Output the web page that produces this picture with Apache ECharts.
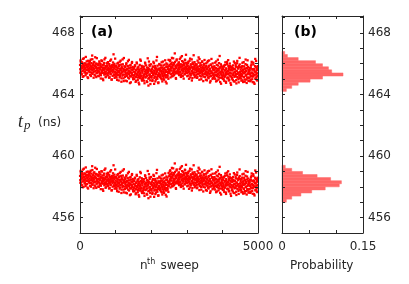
<!DOCTYPE html>
<html><head><meta charset="utf-8">
<script src="https://cdn.jsdelivr.net/npm/echarts@6/dist/echarts.min.js"></script>
<style>html,body{margin:0;padding:0;background:#fff}#c{width:409px;height:284px}</style>
</head><body><div id="c"></div>
<script>
// two interleaved samples per 10-sweep step (A at step start, B half a step later)
const sweepStep = 10;
const sweepRange = [0, 5000];
const tpRange = [455, 469.1];
const probRange = [0, 0.15];
const sweepTickLabels = [0, 5000];
const tpTickLabels = [456, 460, 464, 468];
const probTickLabels = [0, 0.15];

const upperBandA = [
465.92,465.41,466.13,465.68,465.30,466.05,465.77,465.52,466.31,465.84,465.19,465.63,466.02,465.88,465.47,465.71,466.44,465.36,465.95,465.58,465.81,465.12,466.19,465.66,465.99,
465.55,466.08,465.73,465.27,465.90,466.27,465.44,465.82,465.61,466.53,465.35,465.76,465.98,465.09,465.69,466.11,465.50,465.86,465.23,466.00,465.74,465.39,466.36,465.57,465.93,
465.70,465.21,465.96,465.48,466.15,465.62,465.33,465.85,465.04,465.77,466.22,465.53,465.40,465.91,465.66,464.93,465.58,466.05,465.29,465.74,465.45,466.38,465.81,465.16,465.63,
465.37,465.89,465.60,466.10,465.24,465.72,465.49,465.97,465.12,465.66,465.83,465.31,466.27,465.54,464.98,465.78,465.43,465.92,465.58,466.61,465.26,465.69,465.08,465.85,465.47,
465.63,465.18,465.86,465.39,464.95,465.74,465.52,466.06,465.27,465.45,465.91,465.11,465.68,465.34,466.20,465.57,464.83,465.80,465.43,465.22,465.96,465.50,465.05,466.37,465.61,
465.29,465.76,465.47,464.90,465.58,466.03,465.21,465.66,465.38,465.84,465.10,465.52,466.25,465.33,465.70,464.74,465.45,465.92,465.17,465.61,465.40,466.11,465.26,465.79,464.99,
465.48,465.03,465.71,465.26,465.90,465.37,464.82,465.56,465.14,466.08,465.30,465.64,464.95,465.43,465.80,465.19,464.66,465.52,465.35,466.27,465.08,465.68,465.24,465.86,464.90,
465.41,464.97,465.63,465.18,465.82,465.29,464.73,465.50,466.01,465.12,465.57,465.34,464.86,465.75,465.22,466.35,465.45,464.58,465.66,465.06,465.93,465.31,464.92,465.54,465.15,
465.60,465.09,465.47,464.88,465.77,465.25,466.12,465.38,464.69,465.54,465.16,465.85,465.31,464.97,465.70,465.43,466.44,465.02,465.59,465.21,464.79,465.66,465.36,465.94,465.13,
465.28,465.74,465.05,465.52,466.09,465.36,464.85,465.63,465.19,465.88,465.44,464.96,465.71,465.30,466.22,465.57,465.11,465.80,464.72,465.49,465.95,465.24,465.66,465.02,465.41,
465.83,465.42,466.16,465.58,465.11,465.97,465.69,465.34,466.38,465.75,465.20,465.91,465.53,466.04,465.28,465.66,466.67,465.45,465.86,465.07,465.72,466.21,465.39,465.94,465.61,
465.50,466.01,465.73,465.26,465.88,466.30,465.45,465.79,465.14,465.96,465.62,466.49,465.37,465.84,465.55,466.12,465.03,465.70,465.92,465.31,466.24,465.67,465.48,466.06,465.77,
465.66,465.19,465.89,465.44,466.13,465.58,465.02,465.81,465.35,466.33,465.71,465.25,465.96,465.50,464.91,465.77,466.08,465.40,465.63,466.55,465.29,465.86,465.12,465.69,465.98,
465.43,465.92,465.60,465.08,465.75,466.20,465.32,465.67,466.41,465.51,464.96,465.84,465.38,466.03,465.57,465.17,465.90,465.46,466.15,465.27,465.72,464.87,465.63,465.99,465.36,
465.58,465.13,465.81,465.37,466.02,465.49,464.92,465.70,465.24,466.18,465.44,465.06,465.87,465.33,465.62,464.78,465.53,465.95,465.19,466.31,465.41,465.76,465.01,465.65,465.28,
465.35,465.80,465.14,465.61,466.07,465.26,465.72,464.85,465.47,465.93,465.20,465.56,466.26,465.31,464.97,465.68,465.42,466.50,465.09,465.77,465.38,464.70,465.85,465.52,465.23,
465.46,465.02,465.69,465.27,465.88,464.89,465.55,465.18,466.09,465.39,464.76,465.62,465.31,465.97,465.11,465.50,466.23,465.07,465.73,464.94,465.43,465.84,465.22,465.60,464.63,
465.37,465.81,465.09,465.56,464.95,465.70,465.26,466.14,465.43,464.84,465.64,465.18,465.91,465.33,464.72,465.52,466.03,465.13,465.77,465.40,464.99,465.86,465.24,466.38,465.47,
465.19,465.62,465.35,464.90,465.74,465.28,466.06,465.45,464.81,465.58,465.12,465.83,465.39,464.97,465.68,466.27,465.23,465.51,464.75,465.92,465.31,465.06,465.79,465.42,464.88,
465.54,465.10,465.71,465.29,464.93,465.87,465.40,466.12,465.17,465.61,464.80,465.36,465.95,465.24,465.66,464.69,465.48,466.31,465.05,465.77,465.32,464.96,465.58,465.20,465.84
];
const upperBandB = [
465.64,466.21,465.48,465.87,465.33,466.09,465.71,465.15,465.96,465.56,466.35,465.80,465.42,465.68,466.02,465.25,465.89,465.60,466.15,465.38,465.76,465.94,465.07,465.83,465.51,
465.97,465.45,466.18,465.62,465.84,465.20,466.04,465.73,465.36,466.29,465.58,465.91,465.47,466.11,465.67,465.29,465.86,466.42,465.54,465.78,465.13,466.00,465.69,465.41,465.93,
465.52,465.88,465.19,465.71,466.06,465.37,465.64,465.97,465.25,465.80,465.46,466.17,465.58,465.02,465.75,465.41,465.93,465.61,466.28,465.33,465.69,465.12,465.84,465.49,466.03,
465.81,465.28,465.67,466.04,465.40,465.59,465.09,465.86,465.46,466.19,465.35,465.73,465.55,464.96,465.90,465.63,465.21,466.08,465.50,465.77,465.30,465.99,465.44,466.33,465.17,
465.33,465.79,465.10,465.57,466.01,465.26,465.69,465.44,464.91,465.85,465.52,466.13,465.19,465.63,465.37,465.94,465.05,465.72,465.48,466.28,465.29,465.66,464.87,465.58,465.83,
465.57,465.14,465.82,465.35,465.96,465.23,464.86,465.63,465.42,466.16,465.31,465.70,465.04,465.51,465.88,465.19,465.46,464.79,465.75,465.37,466.05,465.28,465.60,465.09,465.67,
465.22,465.69,465.01,465.45,465.85,465.15,465.58,464.88,465.36,466.02,465.27,465.74,465.10,465.50,464.77,465.63,465.31,465.92,465.06,465.41,466.19,465.20,465.55,464.97,465.79,
465.53,465.07,465.76,465.24,464.90,465.66,465.35,466.07,465.11,465.47,465.89,465.19,465.60,464.81,465.39,465.72,465.03,465.58,466.14,465.27,465.84,465.14,464.68,465.49,465.96,
465.19,465.65,465.40,464.93,465.82,465.28,465.56,466.03,465.08,465.44,465.73,464.85,465.61,465.33,466.21,465.12,465.50,465.87,465.26,464.74,465.68,465.37,465.98,465.17,465.54,
465.62,465.18,465.89,465.43,464.99,465.75,465.30,466.14,465.51,465.08,465.67,465.36,465.94,465.22,465.58,464.83,465.47,466.02,465.27,465.81,465.14,465.70,465.39,466.25,465.55,
465.47,465.92,465.64,466.23,465.31,465.79,465.55,466.07,465.18,465.86,465.40,466.35,465.68,465.25,465.97,465.59,466.12,465.36,465.81,465.02,465.73,466.28,465.50,465.89,465.43,
465.88,465.35,466.09,465.61,465.96,465.42,465.75,466.40,465.27,465.83,465.56,466.17,465.70,465.19,465.91,465.48,466.02,465.64,465.33,466.26,465.79,465.52,466.58,465.40,465.95,
465.39,465.85,465.57,466.05,465.23,465.72,465.48,466.19,465.64,465.11,465.93,465.36,465.80,466.28,465.52,465.07,465.68,465.98,465.31,465.76,465.44,466.10,465.61,465.20,465.87,
465.70,465.28,465.95,465.49,465.13,465.81,465.58,466.07,465.37,465.66,466.30,465.22,465.89,465.45,465.74,464.99,465.61,466.12,465.34,465.79,465.52,465.16,465.92,465.63,466.24,
465.32,465.74,465.47,464.96,465.85,465.26,465.63,466.09,465.40,465.11,465.79,465.55,466.21,465.18,465.68,465.37,464.88,465.92,465.50,465.23,465.81,465.42,466.02,465.06,465.59,
465.61,465.18,465.83,465.44,465.02,465.71,465.29,466.15,465.52,464.90,465.67,465.35,465.88,465.12,465.56,466.04,465.24,465.75,464.81,465.47,465.96,465.31,465.64,465.08,465.79,
465.20,465.66,465.39,464.98,465.81,465.13,465.57,465.92,465.28,464.83,465.70,465.45,466.12,465.05,465.52,465.34,465.86,464.91,465.61,465.24,466.01,465.41,464.75,465.74,465.16,
465.58,465.03,465.72,465.26,465.89,465.37,464.86,465.64,465.15,466.05,465.46,465.21,465.80,464.93,465.53,465.32,466.18,465.10,465.68,465.42,464.79,465.76,465.29,465.95,465.07,
465.31,465.77,465.04,465.52,465.20,465.85,464.92,465.60,465.38,466.10,465.14,465.69,464.83,465.45,465.97,465.25,465.56,464.97,465.73,465.11,466.22,465.35,465.63,464.89,465.48,
465.09,465.58,465.34,464.86,465.72,465.21,465.96,465.43,464.99,465.65,465.17,466.07,465.30,464.78,465.55,465.26,465.84,465.02,465.47,466.18,465.13,465.69,464.91,465.38,465.81
];

const lowerBandA = [
458.71,458.26,458.93,458.48,458.10,458.82,458.57,458.35,459.12,458.64,458.01,458.44,458.87,458.66,458.29,458.52,459.26,458.17,458.78,458.39,458.60,457.95,458.99,458.47,458.80,
458.36,458.89,458.54,458.07,458.72,459.05,458.25,458.63,458.42,459.34,458.14,458.58,458.79,457.91,458.49,458.94,458.31,458.68,458.03,458.84,458.56,458.20,459.16,458.38,458.75,
458.50,458.02,458.77,458.29,458.96,458.44,458.13,458.66,457.85,458.59,459.02,458.34,458.21,458.73,458.47,457.74,458.39,458.86,458.10,458.55,458.26,459.19,458.62,457.97,458.43,
458.18,458.69,458.40,458.91,458.05,458.52,458.29,458.78,457.92,458.46,458.63,458.11,459.08,458.34,457.79,458.58,458.23,458.72,458.38,459.40,458.06,458.49,457.88,458.65,458.27,
458.40,457.95,458.63,458.16,457.72,458.51,458.29,458.83,458.04,458.22,458.68,457.88,458.45,458.11,458.97,458.34,457.60,458.57,458.20,457.99,458.73,458.27,457.82,459.14,458.38,
458.01,458.48,458.19,457.62,458.30,458.75,457.93,458.38,458.10,458.56,457.82,458.24,458.97,458.05,458.42,457.46,458.17,458.64,457.89,458.33,458.12,458.83,457.98,458.51,457.71,
458.18,457.73,458.41,457.96,458.60,458.07,457.52,458.26,457.84,458.78,458.00,458.34,457.65,458.13,458.50,457.89,457.36,458.22,458.05,458.97,457.78,458.38,457.94,458.56,457.60,
458.09,457.65,458.31,457.86,458.50,457.97,457.41,458.18,458.69,457.80,458.25,458.02,457.54,458.43,457.90,459.03,458.13,457.26,458.34,457.74,458.61,457.99,457.60,458.22,457.83,
458.26,457.75,458.13,457.54,458.43,457.91,458.78,458.04,457.35,458.20,457.82,458.51,457.97,457.63,458.36,458.09,459.10,457.68,458.25,457.87,457.45,458.32,458.02,458.60,457.79,
457.93,458.39,457.70,458.17,458.74,458.01,457.50,458.28,457.84,458.53,458.09,457.61,458.36,457.95,458.87,458.22,457.76,458.45,457.37,458.14,458.60,457.89,458.31,457.67,458.06,
458.68,458.27,459.01,458.43,457.96,458.82,458.54,458.19,459.23,458.60,458.05,458.76,458.38,458.89,458.13,458.51,459.52,458.30,458.71,457.92,458.57,459.06,458.24,458.79,458.46,
458.35,458.86,458.58,458.11,458.73,459.15,458.30,458.64,457.99,458.81,458.47,459.34,458.22,458.69,458.40,458.97,457.88,458.55,458.77,458.16,459.09,458.52,458.33,458.91,458.62,
458.51,458.04,458.74,458.29,458.98,458.43,457.87,458.66,458.20,459.18,458.56,458.10,458.81,458.35,457.76,458.62,458.93,458.25,458.48,459.40,458.14,458.71,457.97,458.54,458.83,
458.26,458.75,458.43,457.91,458.58,459.03,458.15,458.50,459.24,458.34,457.79,458.67,458.21,458.86,458.40,458.00,458.73,458.29,458.98,458.10,458.55,457.70,458.46,458.82,458.19,
458.41,457.96,458.64,458.20,458.85,458.32,457.75,458.53,458.07,459.01,458.27,457.89,458.70,458.16,458.45,457.61,458.36,458.78,458.02,459.14,458.24,458.59,457.84,458.48,458.11,
458.15,458.60,457.94,458.41,458.87,458.06,458.52,457.65,458.27,458.73,458.00,458.36,459.06,458.11,457.77,458.48,458.22,459.30,457.89,458.57,458.18,457.50,458.65,458.32,458.03,
458.24,457.80,458.47,458.05,458.66,457.67,458.33,457.96,458.87,458.17,457.54,458.40,458.09,458.75,457.89,458.28,459.01,457.85,458.51,457.72,458.21,458.62,458.00,458.38,457.41,
458.12,458.56,457.84,458.31,457.70,458.45,458.01,458.89,458.18,457.59,458.39,457.93,458.66,458.08,457.47,458.27,458.78,457.88,458.52,458.15,457.74,458.61,457.99,459.13,458.22,
457.94,458.37,458.10,457.65,458.49,458.03,458.81,458.20,457.56,458.33,457.87,458.58,458.14,457.72,458.43,459.02,457.98,458.26,457.50,458.67,458.06,457.81,458.54,458.17,457.63,
458.29,457.85,458.46,458.04,457.68,458.62,458.15,458.87,457.92,458.36,457.55,458.11,458.70,457.99,458.41,457.44,458.23,459.06,457.80,458.52,458.07,457.71,458.33,457.95,458.59
];
const lowerBandB = [
458.44,459.03,458.28,458.69,458.12,458.91,458.53,457.97,458.79,458.36,459.18,458.62,458.21,458.48,458.85,458.05,458.72,458.40,458.97,458.18,458.58,458.76,457.89,458.66,458.31,
458.80,458.25,458.98,458.42,458.67,458.01,458.86,458.51,458.15,459.09,458.38,458.73,458.27,458.92,458.47,458.09,458.64,459.24,458.34,458.59,457.93,458.82,458.49,458.22,458.75,
458.33,458.70,458.00,458.54,458.88,458.19,458.46,458.80,458.07,458.62,458.28,458.99,458.40,457.84,458.57,458.23,458.75,458.43,459.10,458.15,458.51,457.94,458.66,458.31,458.85,
458.61,458.08,458.47,458.84,458.20,458.39,457.89,458.66,458.26,458.99,458.15,458.53,458.35,457.76,458.70,458.43,458.01,458.88,458.30,458.57,458.10,458.79,458.24,459.13,457.97,
458.11,458.56,457.87,458.34,458.78,458.03,458.46,458.21,457.68,458.62,458.29,458.90,457.96,458.40,458.14,458.71,457.82,458.49,458.25,459.05,458.06,458.43,457.64,458.35,458.60,
458.29,457.86,458.54,458.07,458.68,457.95,457.58,458.35,458.14,458.88,458.03,458.42,457.76,458.23,458.60,457.91,458.18,457.51,458.47,458.09,458.77,458.00,458.32,457.81,458.39,
457.92,458.39,457.71,458.15,458.55,457.85,458.28,457.58,458.06,458.72,457.97,458.44,457.80,458.20,457.47,458.33,458.01,458.62,457.76,458.11,458.89,457.90,458.25,457.67,458.49,
458.21,457.75,458.44,457.92,457.58,458.34,458.03,458.75,457.79,458.15,458.57,457.87,458.28,457.49,458.07,458.40,457.71,458.26,458.82,457.95,458.52,457.82,457.36,458.17,458.64,
457.87,458.33,458.08,457.61,458.50,457.96,458.24,458.71,457.76,458.12,458.41,457.53,458.29,458.01,458.89,457.80,458.18,458.55,457.94,457.42,458.36,458.05,458.66,457.85,458.22,
458.27,457.83,458.54,458.08,457.64,458.40,457.95,458.79,458.16,457.73,458.32,458.01,458.59,457.87,458.23,457.48,458.12,458.67,457.92,458.46,457.79,458.35,458.04,458.90,458.20,
458.32,458.77,458.49,459.08,458.16,458.64,458.40,458.92,458.03,458.71,458.25,459.20,458.53,458.10,458.82,458.44,458.97,458.21,458.66,457.87,458.58,459.13,458.35,458.74,458.28,
458.73,458.20,458.94,458.46,458.81,458.27,458.60,459.25,458.12,458.68,458.41,459.02,458.55,458.04,458.76,458.33,458.87,458.49,458.18,459.11,458.64,458.37,459.43,458.25,458.80,
458.24,458.70,458.42,458.90,458.08,458.57,458.33,459.04,458.49,457.96,458.78,458.21,458.65,459.13,458.37,457.92,458.53,458.83,458.16,458.61,458.29,458.95,458.46,458.05,458.72,
458.53,458.11,458.78,458.32,457.96,458.64,458.41,458.90,458.20,458.49,459.13,458.05,458.72,458.28,458.57,457.82,458.44,458.95,458.17,458.62,458.35,457.99,458.75,458.46,459.07,
458.15,458.57,458.30,457.79,458.68,458.09,458.46,458.92,458.23,457.94,458.62,458.38,459.04,458.01,458.51,458.20,457.71,458.75,458.33,458.06,458.64,458.25,458.85,457.89,458.42,
458.41,457.98,458.63,458.24,457.82,458.51,458.09,458.95,458.32,457.70,458.47,458.15,458.68,457.92,458.36,458.84,458.04,458.55,457.61,458.27,458.76,458.11,458.44,457.88,458.59,
458.00,458.46,458.19,457.78,458.61,457.93,458.37,458.72,458.08,457.63,458.50,458.25,458.92,457.85,458.32,458.14,458.66,457.71,458.41,458.04,458.81,458.21,457.55,458.54,457.96,
458.33,457.78,458.47,458.01,458.64,458.12,457.61,458.39,457.90,458.80,458.21,457.96,458.55,457.68,458.28,458.07,458.93,457.85,458.43,458.17,457.54,458.51,458.04,458.70,457.82,
458.06,458.52,457.79,458.27,457.95,458.60,457.67,458.35,458.13,458.85,457.89,458.44,457.58,458.20,458.72,458.00,458.31,457.72,458.48,457.86,458.97,458.10,458.38,457.64,458.23,
457.84,458.33,458.09,457.61,458.47,457.96,458.71,458.18,457.74,458.40,457.92,458.82,458.05,457.53,458.30,458.01,458.59,457.77,458.22,458.93,457.88,458.44,457.66,458.13,458.56
];

const binWidth = 0.2;
const upperBinCenters = [464.3,464.5,464.7,464.9,465.1,465.3,465.5,465.7,465.9,466.1,466.3,466.5,466.7];
const upperBinProb    = [0.008,0.018,0.030,0.052,0.075,0.113,0.092,0.086,0.075,0.062,0.030,0.010,0.005];
const lowerBinCenters = [457.1,457.3,457.5,457.7,457.9,458.1,458.3,458.5,458.7,458.9,459.1,459.3];
const lowerBinProb    = [0.008,0.018,0.035,0.055,0.080,0.106,0.110,0.090,0.065,0.038,0.018,0.006];

const ink = '#262626';
const font = 'DejaVu Sans';
const near = (a, list) => list.some(t => Math.abs(a - t) < 1e-6);

function xAx(grid, pos, range, interval, labels) {
  return {
    type: 'value', gridIndex: grid, position: pos, min: range[0], max: range[1], interval: interval,
    z: 10,
    axisLine: { show: true, onZero: false, lineStyle: { color: ink, width: 1 } },
    axisTick: { show: true, inside: true, length: 3, lineStyle: { color: ink } },
    splitLine: { show: false },
    axisLabel: labels ? {
      show: true, color: ink, fontFamily: font, fontSize: 12, margin: 8,
      formatter: v => near(v, labels) ? String(+v.toFixed(4)) : ''
    } : { show: false }
  };
}
function yAx(grid, pos, labels) {
  return {
    type: 'value', gridIndex: grid, position: pos, min: tpRange[0], max: tpRange[1], interval: 1,
    z: 10,
    axisLine: { show: true, onZero: false, lineStyle: { color: ink, width: 1 } },
    axisTick: { show: true, inside: true, length: 3, lineStyle: { color: ink } },
    splitLine: { show: false },
    axisLabel: labels ? {
      show: true, color: ink, fontFamily: font, fontSize: 12, margin: 5,
      formatter: v => near(v, labels) ? String(Math.round(v)) : ''
    } : { show: false }
  };
}

function histItem(params, api) {
  const c = api.value(0), p = api.value(1);
  const a = api.coord([0, c - binWidth / 2]);
  const b = api.coord([p, c + binWidth / 2]);
  return {
    type: 'rect',
    shape: { x: a[0], y: b[1], width: b[0] - a[0], height: a[1] - b[1] },
    style: { fill: '#ff6666', stroke: '#ff6666', lineWidth: 0.5 }
  };
}

function dots(values, offset) {
  return {
    type: 'scatter', xAxisIndex: 0, yAxisIndex: 0, symbol: 'rect', symbolSize: 2.3,
    itemStyle: { color: '#ff0000', opacity: 1 }, silent: true,
    data: values.map((v, i) => [i * sweepStep + offset, v])
  };
}

const txt = (text, x, y, f) => ({ type: 'text', x: x, y: y, z: 20,
  style: { text: text, fill: ink, font: f, verticalAlign: 'top' } });

const chart = echarts.init(document.getElementById('c'), null, { renderer: 'canvas' });
chart.setOption({
  backgroundColor: '#fff',
  animation: false,
  grid: [
    { left: 80, top: 16, width: 178, height: 217 },
    { left: 282, top: 16, width: 81, height: 217 }
  ],
  xAxis: [
    xAx(0, 'bottom', sweepRange, 1000, sweepTickLabels),
    xAx(0, 'top', sweepRange, 1000, null),
    xAx(1, 'bottom', probRange, 0.05, probTickLabels),
    xAx(1, 'top', probRange, 0.05, null)
  ],
  yAxis: [
    yAx(0, 'left', tpTickLabels),
    yAx(0, 'right', null),
    yAx(1, 'left', null),
    yAx(1, 'right', tpTickLabels)
  ],
  series: [
    dots(upperBandA, 2.5), dots(upperBandB, 7.5),
    dots(lowerBandA, 2.5), dots(lowerBandB, 7.5),
    { type: 'custom', xAxisIndex: 2, yAxisIndex: 2, renderItem: histItem, encode: { x: 1, y: 0 },
      data: upperBinCenters.map((c, i) => [c, upperBinProb[i]]) },
    { type: 'custom', xAxisIndex: 2, yAxisIndex: 2, renderItem: histItem, encode: { x: 1, y: 0 },
      data: lowerBinCenters.map((c, i) => [c, lowerBinProb[i]]) }
  ],
  graphic: [
    { type: 'text', x: 91, y: 25, z: 20, style: { text: '(a)', fill: '#000', font: 'bold 14px "DejaVu Sans"', verticalAlign: 'top' } },
    { type: 'text', x: 294, y: 25, z: 20, style: { text: '(b)', fill: '#000', font: 'bold 14px "DejaVu Sans"', verticalAlign: 'top' } },
    txt('t', 18, 113, 'italic 18px "Liberation Serif"'),
    txt('p', 24, 119.5, 'italic 13px "Liberation Serif"'),
    txt('(ns)', 38, 117, '12px "DejaVu Sans"'),
    txt('n', 140, 260, '12px "DejaVu Sans"'),
    txt('th', 147, 258, '8px "DejaVu Sans"'),
    txt('sweep', 160.5, 260, '12px "DejaVu Sans"'),
    txt('Probability', 290, 260, '12px "DejaVu Sans"')
  ]
});
</script></body></html>
